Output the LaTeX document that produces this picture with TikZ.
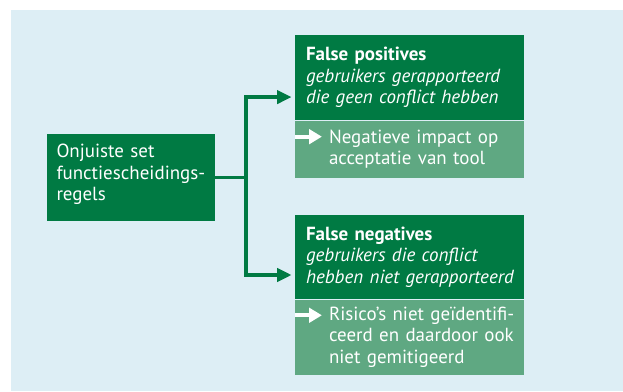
\documentclass[tikz,border=0pt]{standalone}
\usepackage{fontspec}
\setmainfont{PT Sans}
\usetikzlibrary{arrows.meta,calc,positioning}
\definecolor{sodgreen}{RGB}{0,122,67}
\definecolor{sodlight}{RGB}{95,168,130}
\definecolor{sodbg}{RGB}{221,238,245}

\begin{document}
\begin{tikzpicture}[>={Triangle[length=.36cm,width=.33cm]},
 txt/.style={text=white,font=\fontsize{13.5}{15.3}\selectfont,align=left,
  execute at begin node={\rightskip=-.3cm plus 2em}},
 headbox/.style={txt,fill=sodgreen,text width=5.165cm,inner xsep=.275cm,inner ysep=0pt},
 impactbox/.style={txt,fill=sodlight,text width=5.165cm,inner xsep=.275cm,inner ysep=0pt,
  execute at begin node={\leftskip=.575cm}},
 flow/.style={sodgreen,line width=2.3pt},
 mark arrow/.style={white,line width=2.9pt,-{Triangle[length=.32cm,width=.36cm]}}]
\useasboundingbox (0,0) rectangle (15.575,9.775);
\fill[sodbg] (.275,0) rectangle (15.575,9.525);
\node[txt,fill=sodgreen,text width=3.7cm,inner xsep=.25cm,inner ysep=0pt,minimum height=2.175cm] (rules)
 at (3.2625,5.3375) {Onjuiste set\\functiescheidings-\\regels\vspace{.15cm}};
\node[headbox,minimum height=2.125cm] (fp) at (10.2325,7.8375)
 {\textbf{False positives}\\\textit{gebruikers gerapporteerd}\\\textit{die geen conflict hebben}};
\node[impactbox,minimum height=1.425cm,below=0pt of fp] (fpimpact)
 {Negatieve impact op\\acceptatie van tool};
\node[headbox,minimum height=2.1cm] (fn) at (10.2325,3.35)
 {\textbf{False negatives}\\\textit{gebruikers die conflict}\\\textit{hebben niet gerapporteerd}};
\node[impactbox,minimum height=1.875cm,below=0pt of fn] (fnimpact)
 {Risico’s niet geïdentifi-\\ceerd en daardoor ook\\niet gemitigeerd};
% fork from the rule set to both outcomes
\coordinate (fork) at ($(rules.east)+(.78,0)$);
\coordinate (fpin) at ($(fp.west)+(-.08,-.49)$);
\coordinate (fnin) at ($(fn.west)+(-.08,-.45)$);
\draw[flow] (rules.east) -- (fork);
\draw[flow,->] (fork) |- (fpin);
\draw[flow,->] (fork) |- (fnin);
% white arrows in front of the consequences
\coordinate (fpmark) at ($(fpimpact.north west)+(0,-.41)$);
\coordinate (fnmark) at ($(fnimpact.north west)+(0,-.4)$);
\draw[mark arrow] (fpmark) -- ++(.68,0);
\draw[mark arrow] (fnmark) -- ++(.68,0);
\end{tikzpicture}
\end{document}
